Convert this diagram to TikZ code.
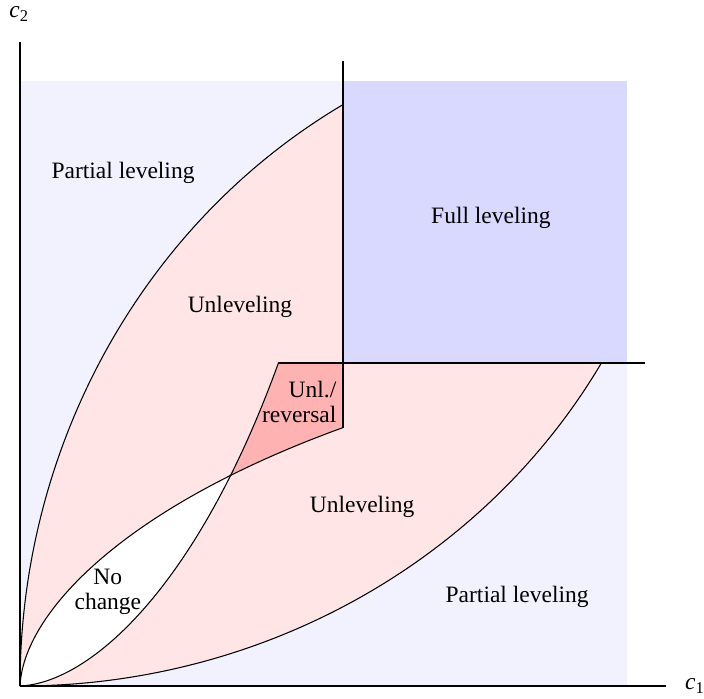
\documentclass[tikz,border=0pt]{standalone}
\usepackage{fontspec}
\setmainfont{Liberation Serif}
\begin{document}
\begin{tikzpicture}[x=4.83cm,y=4.83cm,
  region/.style={font=\fontsize{10}{10.5}\selectfont},
  boundary/.style={black,line width=0.45pt},
  axis/.style={black,line width=0.6pt}]
\useasboundingbox (-0.0619,-0.0372) rectangle (2.1176,2.1238);
% named points
\coordinate (O) at (0,0);
\coordinate (C) at (1,1);
\coordinate (Atop) at (1,1.8);
\coordinate (Bright) at (1.8,1);
\coordinate (A) at (1,0.8);
\coordinate (B) at (0.8,1);
\coordinate (Vtop) at (1,1.935);
\coordinate (Hend) at (1.935,1);
\coordinate (XE) at (2.0,0);
\coordinate (YE) at (0,1.994);
% fills
\fill[blue!5] (0,0) rectangle (1.879,1.873);
\fill[blue!15] (C) rectangle (1.879,1.873);
\fill[red!10] (O) arc[start angle=180,end angle=119.33,x radius=1.96,y radius=2.0647]
  -- (C) -- (Bright) arc[start angle=330.67,end angle=270,x radius=2.0647,y radius=1.96] -- cycle;
\begin{scope}
  \clip (O) .. controls (0.01,0.22) and (0.31,0.55) .. (A) -- (1,0) -- cycle;
  \fill[white] (O) .. controls (0.22,0.01) and (0.55,0.31) .. (B) -- (0,1) -- cycle;
\end{scope}
\begin{scope}
  \clip (O) .. controls (0.01,0.22) and (0.31,0.55) .. (A) -- (C) -- (0,1) -- cycle;
  \fill[red!30] (O) .. controls (0.22,0.01) and (0.55,0.31) .. (B) -- (C) -- (1,0) -- cycle;
\end{scope}
% boundaries
\draw[boundary] (O) arc[start angle=180,end angle=119.33,x radius=1.96,y radius=2.0647];
\draw[boundary] (O) arc[start angle=270,end angle=330.67,x radius=2.0647,y radius=1.96];
\draw[boundary] (O) .. controls (0.01,0.22) and (0.31,0.55) .. (A);
\draw[boundary] (O) .. controls (0.22,0.01) and (0.55,0.31) .. (B);
\draw[boundary] (A) -- (Vtop);
\draw[boundary] (B) -- (Hend);
\draw[axis] (O) -- (XE);
\draw[axis] (O) -- (YE);
% labels
\node[region] (c2) at (-0.002,2.08) {\textit{c}\textsubscript{2}};
\node[region] (c1) at (2.09,0.0) {\textit{c}\textsubscript{1}};
\node[region] (pl1) at (0.319,1.59) {Partial leveling};
\node[region] (fl) at (1.458,1.45) {Full leveling};
\node[region] (ul1) at (0.681,1.175) {Unleveling};
\node[region] (ul2) at (1.059,0.556) {Unleveling};
\node[region,align=right,anchor=east,inner sep=0pt] (ur) at (0.981,0.88) {Unl./\\reversal};
\node[region,align=center] (nc) at (0.272,0.292) {No\\change};
\node[region] (pl2) at (1.539,0.276) {Partial leveling};
\end{tikzpicture}
\end{document}
